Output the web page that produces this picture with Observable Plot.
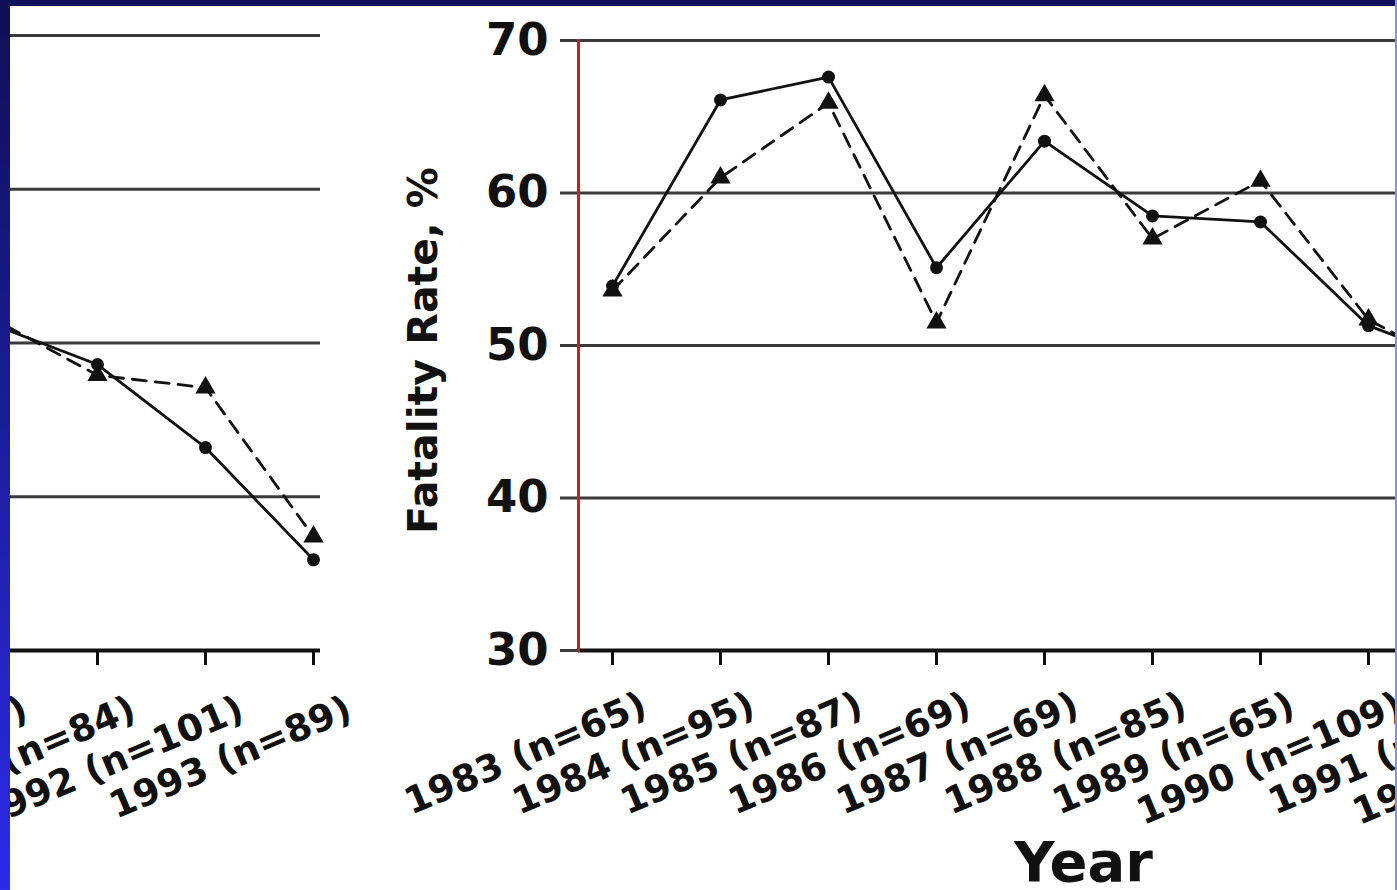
<!DOCTYPE html>
<html>
<head>
<meta charset="utf-8">
<script src="https://cdn.jsdelivr.net/npm/d3@7"></script>
<script src="https://cdn.jsdelivr.net/npm/@observablehq/plot@0.6"></script>
<style>
  html, body { margin: 0; padding: 0; background: #ffffff; }
  #page { position: relative; width: 1397px; height: 890px; overflow: hidden; background: #ffffff; }
  .panel { position: absolute; top: 0; height: 890px; overflow: hidden; }
  #band-top { position: absolute; left: 0; top: 0; width: 1397px; height: 6px; background: #12125c; }
  #band-left { position: absolute; left: 0; top: 0; width: 10px; height: 890px; background: linear-gradient(#0f0f55, #2b2be8); }
  #band-right { position: absolute; left: 1395px; top: 0; width: 2px; height: 890px; background: #8c8cf0; }
</style>
</head>
<body>
<div id="page">
  <div id="left" class="panel" style="left:10px;width:370px;"></div>
  <div id="right" class="panel" style="left:380px;width:1017px;"></div>
  <div id="band-top"></div>
  <div id="band-left"></div>
  <div id="band-right"></div>
</div>
<script>
// ---- data ----
const years = [1983, 1984, 1985, 1986, 1987, 1988, 1989, 1990, 1991, 1992, 1993];
const nCounts = [65, 95, 87, 69, 69, 85, 65, 109, 84, 101, 89];
const solidRate = [53.9, 66.1, 67.6, 55.1, 63.4, 58.5, 58.1, 51.3, 48.6, 43.2, 35.9];
const dashedRate = [53.6, 61.0, 65.9, 51.5, 66.4, 57.0, 60.8, 51.7, 47.9, 47.1, 37.4];
const gridTicks = [40, 50, 60, 70];
const yTicks = [30, 40, 50, 60, 70];
const yLabel = "Fatality Rate, %";
const xLabel = "Year";

const rows = years.map((year, i) => ({year, solid: solidRate[i], dashed: dashedRate[i]}));
const tickText = d => `${d} (n=${nCounts[years.indexOf(d)]})`;

function panel({width, marginLeft, marginRight, yRange, xDomain, xRange, showY, tickDx, tickDy}) {
  const marks = [
    Plot.ruleY(gridTicks, {stroke: "#3a3a3a", strokeWidth: 3}),
    Plot.ruleY([30], {stroke: "#111", strokeWidth: 4}),
    // tick marks only
    Plot.axisX({ticks: years, tickFormat: () => "", tickSize: 15, strokeWidth: 3, stroke: "#111", label: null}),
    // rotated tick labels only
    Plot.axisX({
      ticks: years, tickFormat: tickText, tickRotate: -23, tickSize: 0,
      fill: "#111", fontSize: 37,
      textAnchor: "end", lineAnchor: "middle", dx: tickDx, dy: tickDy, label: null
    }),
    Plot.line(rows, {x: "year", y: "dashed", stroke: "#111", strokeWidth: 2.8, strokeDasharray: "14,9"}),
    Plot.line(rows, {x: "year", y: "solid", stroke: "#111", strokeWidth: 2.8}),
    Plot.dot(rows, {x: "year", y: "dashed", symbol: "triangle", r: 7.5, fill: "#111"}),
    Plot.dot(rows, {x: "year", y: "solid", r: 6.5, fill: "#111"})
  ];
  if (showY) {
    marks.push(
      Plot.axisY({ticks: yTicks, tickSize: 18, tickPadding: 12, fontSize: 45, strokeWidth: 3, stroke: "#3a3a3a", fill: "#111", label: null}),
      Plot.frame({anchor: "left", stroke: "#c62020", strokeWidth: 3}),
      Plot.text([yLabel], {frameAnchor: "left", rotate: -90, textAnchor: "middle", lineAnchor: "middle", dx: -155, dy: 5, fontSize: 41, fill: "#111"}),
      Plot.text([xLabel], {frameAnchor: "bottom-left", textAnchor: "middle", lineAnchor: "bottom", dx: 505, dy: 230, fontSize: 56, fill: "#111"})
    );
  }
  return Plot.plot({
    width, height: 890,
    marginLeft, marginRight, marginTop: yRange[0], marginBottom: 890 - yRange[1],
    x: {type: "linear", domain: xDomain, range: xRange},
    y: {domain: [30, 70], range: [yRange[1], yRange[0]]},
    style: {fontFamily: "DejaVu Sans", fontWeight: "bold", background: "transparent", maxWidth: "none", overflow: "hidden"},
    marks
  });
}

document.getElementById("left").appendChild(panel({
  width: 370, marginLeft: 0, marginRight: 60, yRange: [35, 650],
  xDomain: [1991, 1993], xRange: [87, 303], showY: false, tickDx: 36, tickDy: 44
}));
document.getElementById("right").appendChild(panel({
  width: 1017, marginLeft: 198, marginRight: 0, yRange: [40, 650],
  xDomain: [1983, 1990], xRange: [232, 988], showY: true, tickDx: 32, tickDy: 40
}));
</script>
</body>
</html>
